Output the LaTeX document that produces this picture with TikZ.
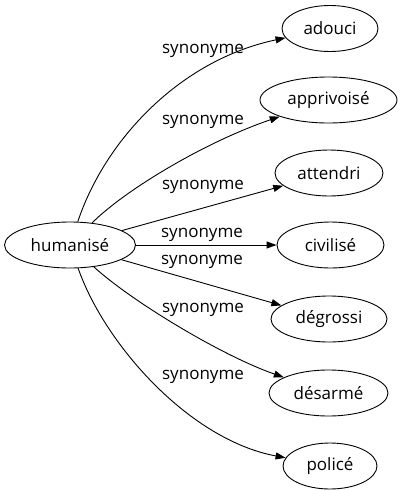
\documentclass[tikz,border=0pt]{standalone}
\usepackage{fontspec}
\setmainfont{Open Sans}
\usetikzlibrary{shapes.geometric}
\usetikzlibrary{arrows.meta}

\begin{document}
\begin{tikzpicture}
[every node/.style={font=\fontsize{17}{20}\selectfont},x=1pt,y=-1pt,
  synarrow/.style = {-{Triangle[length=10pt,width=7pt]},line width=0.9pt},
  e/.style = {ellipse,draw,line width=0.9pt,inner sep=0pt,
        minimum height=46pt},
  lbl/.style = {inner sep=0pt}]
\useasboundingbox (0,0) rectangle (404,491);

\node[e,minimum width=131pt] (humanise) at (70,245) {humanisé};
   \node[e,minimum width=96pt] (adouci) at (330,28.5) {adouci};
   \node[e,minimum width=137pt] (apprivoise) at (328.5,100) {apprivoisé};
   \node[e,minimum width=108pt] (attendri) at (329,173) {attendri};
   \node[e,minimum width=107pt] (civilise) at (330.5,245) {civilisé};
   \node[e,minimum width=116pt] (degrossi) at (329,319) {dégrossi};
   \node[e,minimum width=119pt] (desarme) at (328.5,393) {désarmé};
   \node[e,minimum width=94pt] (police) at (330,466) {policé};

   \node[lbl] (l-adouci) at (203,51) {synonyme};
   \node[lbl] (l-apprivoise) at (203,122) {synonyme};
   \node[lbl] (l-attendri) at (203,187) {synonyme};
   \node[lbl] (l-civilise) at (202,235) {synonyme};
   \node[lbl] (l-degrossi) at (202,262) {synonyme};
   \node[lbl] (l-desarme) at (203,310) {synonyme};
   \node[lbl] (l-police) at (203,377) {synonyme};

   \draw[synarrow] (humanise) .. controls (105,140) and (180,60) .. (adouci);
   \draw[synarrow] (humanise) .. controls (125,190) and (205,142) .. (apprivoise);
   \draw[synarrow] (humanise) -- (attendri);
   \draw[synarrow] (humanise) -- (civilise);
   \draw[synarrow] (humanise) -- (degrossi);
   \draw[synarrow] (humanise) .. controls (130,300) and (220,355) .. (desarme);
   \draw[synarrow] (humanise) .. controls (105,345) and (190,440) .. (police);
\end{tikzpicture}
\end{document}
